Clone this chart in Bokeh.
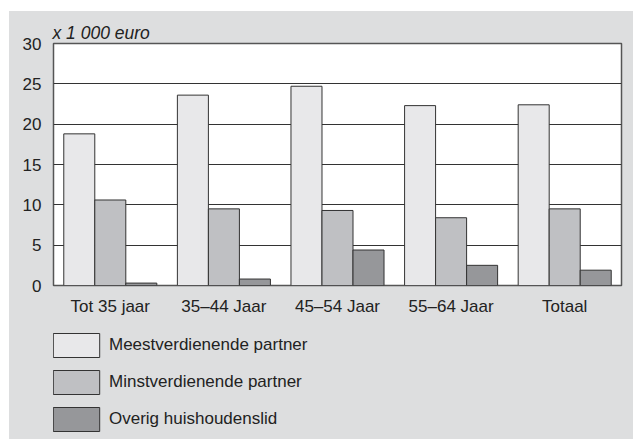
from bokeh.plotting import figure
from bokeh.models import ColumnDataSource, Legend, LegendItem, FactorRange, Range1d
from bokeh.layouts import column
from bokeh.transform import dodge
from bokeh.embed import file_html
from bokeh.resources import INLINE

categories = ["Tot 35 jaar", "35\u201344 Jaar", "45\u201354 Jaar", "55\u201364 Jaar", "Totaal"]
meest = [18.8, 23.6, 24.7, 22.3, 22.4]
minst = [10.6, 9.5, 9.3, 8.4, 9.5]
overig = [0.3, 0.8, 4.4, 2.5, 1.9]
series_names = ["Meestverdienende partner", "Minstverdienende partner", "Overig huishoudenslid"]
y_ticks = [0, 5, 10, 15, 20, 25, 30]

colors = ["#e8e8ea", "#bfc0c3", "#96979a"]
BG = "#dddedf"
FONT = "Liberation Sans"
TXT = "#222222"
EDGE = "#333333"

src = ColumnDataSource(dict(cat=categories, meest=meest, minst=minst, overig=overig))
cols = ["meest", "minst", "overig"]
bw = 0.273
offs = [-bw, 0, bw]

p = figure(x_range=FactorRange(*categories), y_range=(0, 30),
           frame_width=568, frame_height=242, output_backend="svg", toolbar_location=None,
           min_border_left=44, min_border_right=12, min_border_top=32, min_border_bottom=35)
p.background_fill_color = "white"
p.border_fill_color = BG
p.outline_line_color = "#555555"
p.outline_line_width = 1.5
p.x_range.range_padding = 0
p.x_range.group_padding = 0

for off, col, c in zip(offs, cols, colors):
    p.vbar(x=dodge("cat", off, range=p.x_range), top=col, width=bw, bottom=0,
           source=src, fill_color=c, line_color=EDGE, line_width=1)

p.xgrid.grid_line_color = None
p.ygrid.grid_line_color = EDGE
p.ygrid.grid_line_width = 1
p.yaxis.ticker = y_ticks

for ax in (p.xaxis[0], p.yaxis[0]):
    ax.axis_line_color = None
    ax.major_tick_line_color = None
    ax.minor_tick_line_color = None
    ax.major_label_text_font = FONT
    ax.major_label_text_color = TXT
p.yaxis.major_label_text_font_size = "17px"
p.xaxis.major_label_text_font_size = "17px"
p.yaxis.major_label_standoff = 6
p.xaxis.major_label_standoff = 5

p.title.text = "x 1 000 euro"
p.title.text_font = FONT
p.title.text_font_style = "italic"
p.title.text_font_size = "17.5px"
p.title.text_color = TXT
p.title.align = "left"
p.title.offset = -1
p.title.standoff = 2

# legend panel: same bars, drawn far outside its visible y range, used only as legend keys
lf = figure(width=624, height=119, x_range=p.x_range, y_range=Range1d(100, 101),
            output_backend="svg", toolbar_location=None,
            x_axis_location=None, y_axis_location=None,
            min_border_left=0, min_border_right=0, min_border_top=0, min_border_bottom=0)
lf.background_fill_color = None
lf.border_fill_color = BG
lf.outline_line_color = None
lf.grid.visible = False

items = []
for n, off, col, c in zip(series_names, offs, cols, colors):
    r = lf.vbar(x=dodge("cat", off, range=p.x_range), top=col, width=bw, bottom=0,
                source=src, fill_color=c, line_color=EDGE, line_width=1)
    items.append(LegendItem(label=n, renderers=[r]))

legend = Legend(items=items, orientation="vertical", location=(-6, 5),
                glyph_width=58, glyph_height=30, label_standoff=4, spacing=7,
                padding=0, margin=0,
                label_text_font=FONT, label_text_font_size="17px", label_text_color=TXT,
                background_fill_alpha=0, border_line_alpha=0)
lf.add_layout(legend, "center")

layout = column(p, lf, spacing=0, styles={"background-color": BG})
layout.margin = (11, 0, 0, 9)
open("out.html", "w").write(file_html(layout, INLINE))
